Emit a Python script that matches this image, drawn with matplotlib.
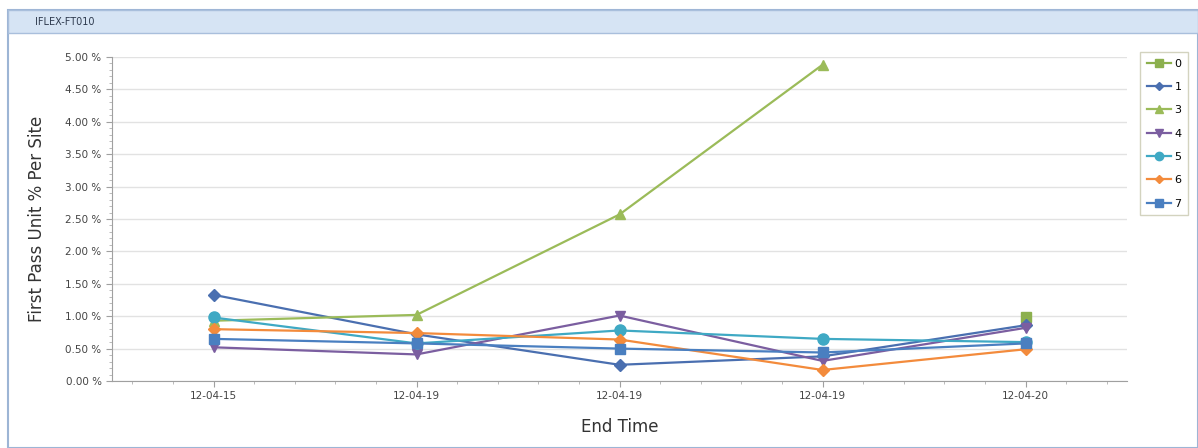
import matplotlib
matplotlib.use("Agg")
import matplotlib.pyplot as plt
from matplotlib.patches import Rectangle
from matplotlib.ticker import FuncFormatter, MultipleLocator
import numpy as np

categories = ["12-04-15", "12-04-19", "12-04-19", "12-04-19", "12-04-20"]
s0 = [None, None, None, None, 0.98]
s1 = [1.33, 0.72, 0.25, 0.38, 0.86]
s3 = [0.93, 1.02, 2.57, 4.88, None]
s4 = [0.52, 0.41, 1.01, 0.31, 0.82]
s5 = [0.98, 0.58, 0.78, 0.65, 0.60]
s6 = [0.80, 0.74, 0.64, 0.17, 0.49]
s7 = [0.65, 0.58, 0.50, 0.44, 0.58]
yticks = [0, 0.5, 1.0, 1.5, 2.0, 2.5, 3.0, 3.5, 4.0, 4.5, 5.0]

series = [
    ("0", s0, "#8CB04E", "s"),
    ("1", s1, "#4A6FB0", "D"),
    ("3", s3, "#9BBB59", "^"),
    ("4", s4, "#7B5EA0", "v"),
    ("5", s5, "#3FA9C4", "o"),
    ("6", s6, "#F38B3C", "D"),
    ("7", s7, "#4A7FC0", "s"),
]

W, H = 1198, 448
fig = plt.figure(figsize=(W / 100, H / 100), dpi=100)
fig.patch.set_facecolor("white")

# panel frame
fig.add_artist(Rectangle((8 / W, 0), (W - 8) / W, 1 - 10 / H, transform=fig.transFigure,
                         facecolor="white", edgecolor="#9DB5D5", lw=1.5, zorder=-5))
fig.add_artist(Rectangle((8 / W, 1 - 33 / H), (W - 8) / W, 23 / H, transform=fig.transFigure,
                         facecolor="#D6E4F4", edgecolor="#A9BFDC", lw=1, zorder=-4))
fig.text(35 / W, 1 - 22 / H, "IFLEX-FT010", fontsize=7, color="#2E3A4E", va="center",
         family="DejaVu Sans")

ax = fig.add_axes([112 / W, 1 - 381 / H, (1127 - 112) / W, (381 - 57) / H])
ax.patch.set_alpha(0)
x = np.arange(len(categories))
for name, vals, col, mk in series:
    y = np.array([np.nan if v is None else v for v in vals], dtype=float)
    ms = 6 if mk in ("D",) else 7
    if mk == "o":
        ms = 8
    ax.plot(x, y, color=col, marker=mk, markersize=ms, lw=1.6, label=name,
            markeredgecolor=col)

ax.set_xlim(-0.5, 4.5)
ax.set_ylim(0, 5.0)
ax.set_xticks(x)
ax.set_xticklabels(categories)
ax.xaxis.set_minor_locator(MultipleLocator(0.2))
ax.set_yticks(yticks)
ax.yaxis.set_minor_locator(MultipleLocator(0.1))
ax.yaxis.set_major_formatter(FuncFormatter(lambda v, p: f"{v:.2f} %"))
ax.grid(axis="y", which="major", color="#E2E2E2", lw=1)
ax.set_axisbelow(True)
for s in ["top", "right"]:
    ax.spines[s].set_visible(False)
for s in ["left", "bottom"]:
    ax.spines[s].set_color("#A0A0A0")
ax.tick_params(axis="both", which="major", labelsize=7.5, colors="#A0A0A0",
               labelcolor="#444444", length=4)
ax.tick_params(axis="both", which="minor", colors="#B0B0B0", length=2)
ax.set_ylabel("First Pass Unit % Per Site", fontsize=12, color="#333333", labelpad=14)
ax.set_xlabel("End Time", fontsize=12, color="#333333", labelpad=12)

leg = ax.legend(loc="upper left", bbox_to_anchor=(1140 / W, 1 - 52 / H),
                bbox_transform=fig.transFigure, frameon=True, fancybox=False,
                fontsize=8, handlelength=2.2, handletextpad=0.3, labelspacing=1.2,
                borderpad=0.6, borderaxespad=0, markerscale=0.75)
leg.get_frame().set_edgecolor("#C8C8B0")
leg.get_frame().set_linewidth(1)

fig.savefig("out.png", dpi=100)
